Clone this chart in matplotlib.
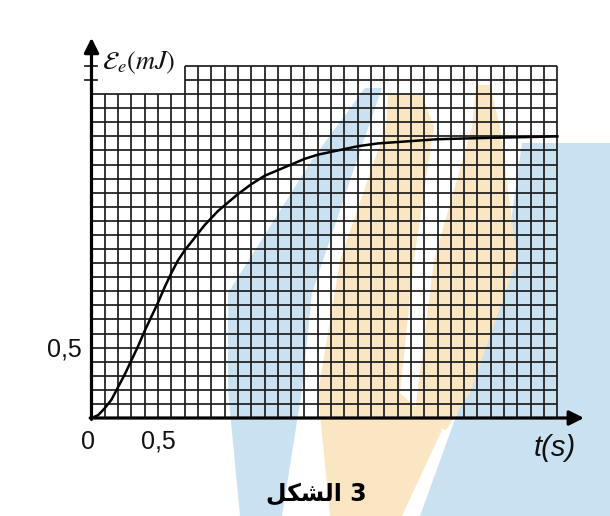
import numpy as np
import matplotlib
matplotlib.use("Agg")
import matplotlib.pyplot as plt
from matplotlib.patches import Polygon

# ---- data ----
t_s = [0.0, 0.05, 0.1, 0.15, 0.2, 0.25, 0.3, 0.35, 0.4, 0.45, 0.5, 0.55, 0.6,
       0.65, 0.7, 0.75, 0.8, 0.85, 0.9, 0.95, 1.0, 1.1, 1.2, 1.3, 1.4, 1.5,
       1.6, 1.7, 1.8, 1.9, 2.0, 2.15, 2.3, 2.6, 3.0, 3.5]
E_mJ = [0.0, 0.02, 0.07, 0.13, 0.22, 0.31, 0.41, 0.51, 0.62, 0.72, 0.82, 0.93,
        1.03, 1.12, 1.19, 1.25, 1.31, 1.37, 1.42, 1.47, 1.51, 1.59, 1.66, 1.72,
        1.76, 1.80, 1.84, 1.87, 1.89, 1.91, 1.93, 1.95, 1.96, 1.98, 1.99, 2.0]
x_ticks = [0, 0.5]
x_tick_labels = ["0", "0,5"]
y_ticks = [0.5]
y_tick_labels = ["0,5"]
y_label = r"$\mathcal{E}_{e}(mJ)$"
x_label = "t(s)"
caption = "\uFEDE\uFEDC\uFEB8\uFEDF\uFE8D 3"   # الشكل 3 (shaped glyphs)

# ---- background watermark (decoration, pixel space) ----
wm_blue = [
    [(365, 88), (382, 88), (357, 160), (312, 293), (302, 390), (282, 516),
     (240, 516), (228, 390), (228, 293), (312, 160)],
    [(522, 143), (610, 143), (610, 516), (420, 516), (462, 400), (500, 300)],
]
wm_orange = [
    [(388, 95), (422, 95), (434, 127), (414, 260), (400, 393), (442, 430),
     (402, 516), (330, 516), (318, 393), (340, 260), (386, 127)],
    [(476, 85), (490, 85), (500, 127), (517, 260), (470, 393), (446, 430),
     (414, 420), (434, 260), (472, 127)],
]

# ---- figure / coordinate mapping ----
W, H, DPI = 610, 516, 100
px_t, x0 = 133.1, 91.5      # pixels per second, pixel of t=0
px_e, y0 = 140.8, 418.0     # pixels per mJ, pixel row of E=0

fig = plt.figure(figsize=(W / DPI, H / DPI), dpi=DPI)
fig.patch.set_facecolor("white")

bg = fig.add_axes([0, 0, 1, 1], zorder=0)
bg.set_xlim(0, W)
bg.set_ylim(H, 0)
bg.axis("off")
for poly in wm_blue:
    bg.add_patch(Polygon(poly, closed=True, facecolor="#c9e1f1", edgecolor="none"))
for poly in wm_orange:
    bg.add_patch(Polygon(poly, closed=True, facecolor="#fbe6c4", edgecolor="none"))

ax = fig.add_axes([0, 0, 1, 1], zorder=1)
ax.patch.set_alpha(0)
ax.set_xlim(-x0 / px_t, (W - x0) / px_t)
ax.set_ylim((y0 - H) / px_e, y0 / px_e)
ax.axis("off")

gc = "#1c1c1c"
glw = 1.25
# grid: left part (t < 0.7) up to 2.3, right part up to 2.5
for i in range(1, 36):
    t = i / 10
    top = 2.3 if i < 7 else 2.5
    ax.plot([t, t], [0, top], color=gc, lw=glw, solid_capstyle="butt", zorder=2)
for j in range(1, 26):
    e = j / 10
    left = 0.0 if j <= 23 else 0.7
    ax.plot([left, 3.5], [e, e], color=gc, lw=glw, solid_capstyle="butt", zorder=2)
# small ticks on the y axis at 2.4 and 2.5
for e in (2.4, 2.5):
    ax.plot([-0.05, 0.045], [e, e], color=gc, lw=glw, zorder=2)

# axes with arrows
ax.annotate("", xy=(3.7, 0), xytext=(-0.01, 0),
            arrowprops=dict(arrowstyle="-|>", lw=2.3, color="black",
                            mutation_scale=22, shrinkA=0, shrinkB=0), zorder=4)
ax.annotate("", xy=(0, 2.70), xytext=(0, -0.01),
            arrowprops=dict(arrowstyle="-|>", lw=2.3, color="black",
                            mutation_scale=22, shrinkA=0, shrinkB=0), zorder=4)

# curve
ax.plot(t_s, E_mJ, color="black", lw=1.8, zorder=3, solid_joinstyle="round")

# tick labels
tick_font = dict(family="Liberation Sans", fontsize=18, color="#111")
for t, lab in zip(x_ticks, x_tick_labels):
    dx = -0.025 if lab == "0" else 0.0
    ax.text(t + dx, -0.17, lab, ha="center", va="center", **tick_font)
for e, lab in zip(y_ticks, y_tick_labels):
    ax.text(-0.07, e - 0.01, lab, ha="right", va="center", **tick_font)

plt.rcParams["mathtext.fontset"] = "stix"
ax.text(0.08, 2.52, y_label, ha="left", va="center", fontsize=19, color="#111")
ax.text(3.48, -0.21, x_label, ha="center", va="center", fontsize=21, color="#111",
        family="Liberation Sans", fontstyle="italic")

ax.text(1.69, -0.54, caption, ha="center", va="center", fontsize=17,
        fontweight="bold", family=["DejaVu Sans"], color="black")

fig.savefig("out.png", dpi=DPI)
